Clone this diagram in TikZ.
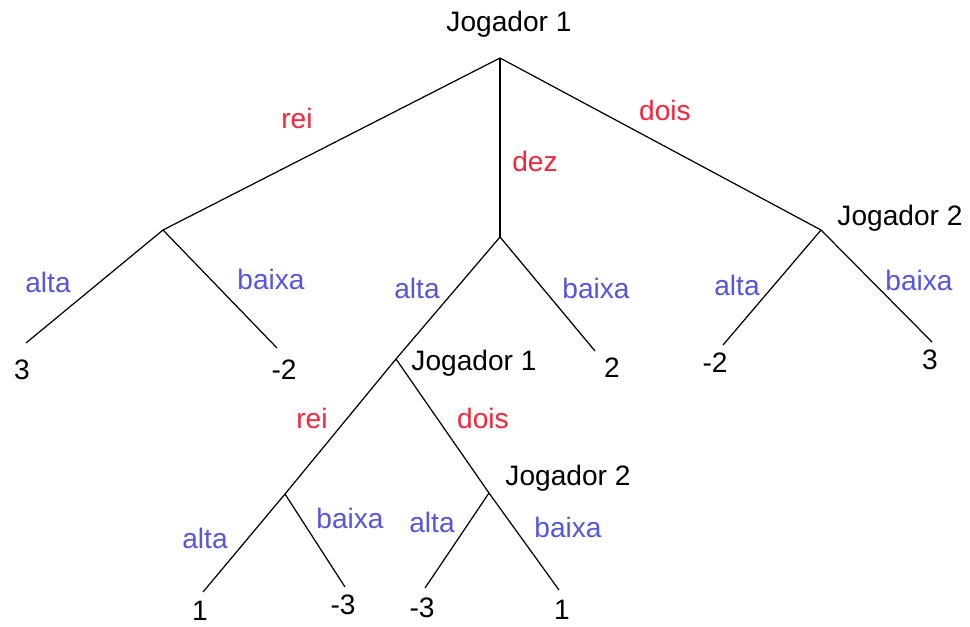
\documentclass[tikz,border=0pt]{standalone}
\usepackage{fontspec}
\setmainfont{Liberation Sans}
\usepackage{tikz}
\usetikzlibrary{positioning}

\definecolor{moveRed}{RGB}{250,35,60}
\definecolor{moveBlue}{RGB}{85,85,225}

\tikzset{
  player/.style={font=\fontsize{16}{19}\selectfont, text=black},
  payoff/.style={font=\fontsize{16}{19}\selectfont, text=black, inner sep=1pt},
  p1move/.style={font=\fontsize{16}{19}\selectfont, text=moveRed},
  p2move/.style={font=\fontsize{16}{19}\selectfont, text=moveBlue},
  branch/.style={line width=0.7pt, black}
}

\begin{document}
\begin{tikzpicture}[x=0.02cm, y=-0.02cm]
      \useasboundingbox (0,0) rectangle (970,626);
      % decision points
      \coordinate (root) at (500,58);
      \coordinate (rei) at (163,230);
      \coordinate (dez) at (500,237);
      \coordinate (dois) at (821,230);
      \coordinate (dezAlta) at (396,359);
      \coordinate (dezRei) at (285,494);
      \coordinate (dezDois) at (489,493);
      % leaf ends
      \coordinate (e1) at (26,343);
      \coordinate (e2) at (277,348);
      \coordinate (e3) at (595,351);
      \coordinate (e4) at (723,345);
      \coordinate (e5) at (932,342);
      \coordinate (e6) at (203,592);
      \coordinate (e7) at (345,587);
      \coordinate (e8) at (425,588);
      \coordinate (e9) at (559,590);

      \draw[branch] (root) -- (rei);
      \draw[branch] (root) -- (dez);
      \draw[branch] (root) -- (dois);
      \draw[branch] (rei) -- (e1);
      \draw[branch] (rei) -- (e2);
      \draw[branch] (dez) -- (dezAlta);
      \draw[branch] (dez) -- (e3);
      \draw[branch] (dois) -- (e4);
      \draw[branch] (dois) -- (e5);
      \draw[branch] (dezAlta) -- (dezRei);
      \draw[branch] (dezAlta) -- (dezDois);
      \draw[branch] (dezRei) -- (e6);
      \draw[branch] (dezRei) -- (e7);
      \draw[branch] (dezDois) -- (e8);
      \draw[branch] (dezDois) -- (e9);

      % players
      \node[player] (j1top) at (509,24) {Jogador 1};
      \node[player] (j2right) at (900,218) {Jogador 2};
      \node[player] (j1mid) at (474,363) {Jogador 1};
      \node[player] (j2mid) at (568,478) {Jogador 2};

      % moves
      \node[p1move] (lRei) at (297,118) {rei};
      \node[p1move] (lDez) at (535,161) {dez};
      \node[p1move] (lDois) at (665,110) {dois};
      \node[p2move] (lA1) at (48,282) {alta};
      \node[p2move] (lB1) at (271,279) {baixa};
      \node[p2move] (lA2) at (417,288) {alta};
      \node[p2move] (lB2) at (596,288) {baixa};
      \node[p2move] (lA3) at (737,285) {alta};
      \node[p2move] (lB3) at (919,280) {baixa};
      \node[p1move] (lRei2) at (312,418) {rei};
      \node[p1move] (lDois2) at (483,418) {dois};
      \node[p2move] (lA4) at (205,538) {alta};
      \node[p2move] (lB4) at (350,518) {baixa};
      \node[p2move] (lA5) at (432,522) {alta};
      \node[p2move] (lB5) at (568,527) {baixa};

      % payoffs
      \node[payoff] (v1) at (22,370) {3};
      \node[payoff] (v2) at (284,370) {-2};
      \node[payoff] (v3) at (612,368) {2};
      \node[payoff] (v4) at (715,363) {-2};
      \node[payoff] (v5) at (930,360) {3};
      \node[payoff] (v6) at (200,611) {1};
      \node[payoff] (v7) at (343,605) {-3};
      \node[payoff] (v8) at (422,608) {-3};
      \node[payoff] (v9) at (562,610) {1};
    \end{tikzpicture}
\end{document}
